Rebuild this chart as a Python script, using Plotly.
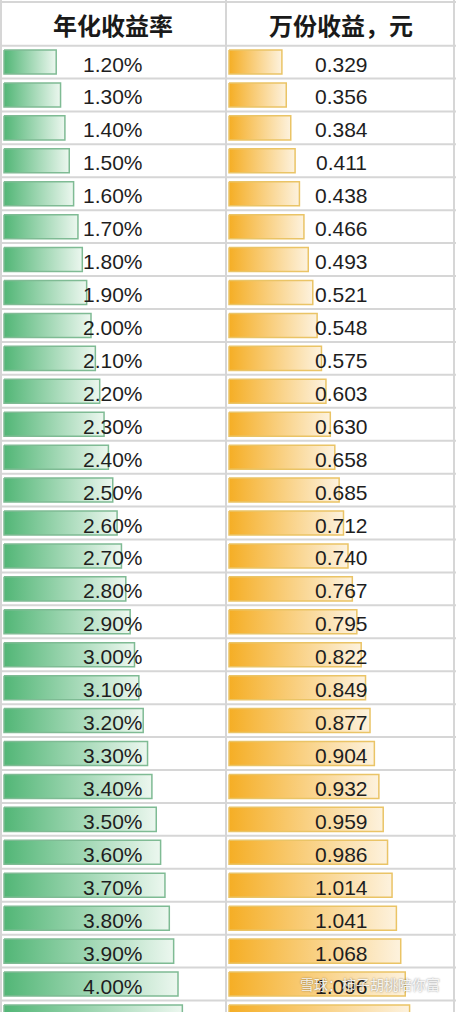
import plotly.graph_objects as go

# 年化收益率 (%) and 万份收益 (元), as shown in the table
rates = [1.20, 1.30, 1.40, 1.50, 1.60, 1.70, 1.80, 1.90, 2.00, 2.10,
         2.20, 2.30, 2.40, 2.50, 2.60, 2.70, 2.80, 2.90, 3.00, 3.10,
         3.20, 3.30, 3.40, 3.50, 3.60, 3.70, 3.80, 3.90, 4.00, 4.10]
yields = [0.329, 0.356, 0.384, 0.411, 0.438, 0.466, 0.493, 0.521, 0.548, 0.575,
          0.603, 0.630, 0.658, 0.685, 0.712, 0.740, 0.767, 0.795, 0.822, 0.849,
          0.877, 0.904, 0.932, 0.959, 0.986, 1.014, 1.041, 1.068, 1.096, 1.123]
rate_labels = ["%.2f%%" % r for r in rates]
yield_labels = ["%.3f" % v for v in yields]
headers = ["年化收益率", "万份收益，元"]

W, H = 456, 1012
split = 226
row0, row_h = 62, 32.93
bar_h = 0.73

green = dict(scale=[[0, "#52b676"], [1, "#ecf7ef"]], edge="#7fbb94")
orange = dict(scale=[[0, "#f5ae25"], [1, "#fdf2de"]], edge="#eac466")

num_font = dict(family="Liberation Sans, Arial, sans-serif", size=21, color="#1e1e1e")
head_font = dict(family="Noto Sans CJK SC", size=24, color="#1a1a1a")

fig = go.Figure()


def add_bar(axis, i, v, style):
    y0, y1 = i - bar_h / 2, i + bar_h / 2
    fig.add_trace(go.Scatter(
        x=[0, v, v, 0, 0], y=[y0, y0, y1, y1, y0],
        xaxis=axis, yaxis="y", mode="lines", fill="toself",
        fillgradient=dict(type="horizontal", colorscale=style["scale"]),
        line=dict(color=style["edge"], width=1.5),
        hoverinfo="skip", showlegend=False))


for i, (r, v) in enumerate(zip(rates, yields)):
    add_bar("x", i, r, green)
    add_bar("x2", i, v, orange)

annotations = []
for i in range(len(rates)):
    annotations.append(dict(x=0.5, xref="x domain", y=i, yref="y", text=rate_labels[i],
                            showarrow=False, font=num_font, yshift=-2))
    annotations.append(dict(x=0.5, xref="x2 domain", y=i, yref="y", text=yield_labels[i],
                            showarrow=False, font=num_font, yshift=-2))

head_y = (24 - row0) / row_h
annotations.append(dict(x=0.5, xref="x domain", y=head_y, yref="y", text="<b>%s</b>" % headers[0],
                        showarrow=False, font=head_font))
annotations.append(dict(x=0.5, xref="x2 domain", y=head_y, yref="y", text="<b>%s</b>" % headers[1],
                        showarrow=False, font=head_font))
# watermark in the bottom-right corner
annotations.append(dict(x=442 / W, xref="paper", y=1 - 996 / H, yref="paper", xanchor="right",
                        text="雪球：柿子胡桃陪你富", showarrow=False,
                        font=dict(family="Noto Sans CJK SC", size=14, color="rgba(255,255,255,0.9)",
                                  shadow="0px 0px 2px rgba(0,0,0,0.55)")))

# grid lines
grid = "#d6d6d6"
shapes = []
line_ys = [(2 - row0) / row_h, (45.7 - row0) / row_h] + [i + 0.5 for i in range(len(rates))]
for ly in line_ys:
    shapes.append(dict(type="line", xref="paper", yref="y", x0=0, x1=1, y0=ly, y1=ly,
                       line=dict(color=grid, width=2), layer="below"))
for lx in [1, split, W - 2]:
    shapes.append(dict(type="line", xref="paper", yref="paper", x0=lx / W, x1=lx / W, y0=0, y1=1,
                       line=dict(color=grid, width=2), layer="below"))

g_scale, o_scale = 43.5, 160.8
fig.update_layout(
    width=W, height=H, margin=dict(l=0, r=0, t=0, b=0),
    paper_bgcolor="white", plot_bgcolor="white",
    xaxis=dict(domain=[0, split / W], range=[-4 / g_scale, (split - 4) / g_scale], visible=False),
    xaxis2=dict(domain=[split / W, 1], range=[-3 / o_scale, (W - split - 3) / o_scale], visible=False),
    yaxis=dict(range=[(H - row0) / row_h, -row0 / row_h], visible=False),
    annotations=annotations, shapes=shapes,
)

fig.write_html("out.html", config={"displayModeBar": False},
               post_script="document.body.style.margin='0';document.body.style.overflow='hidden';")
